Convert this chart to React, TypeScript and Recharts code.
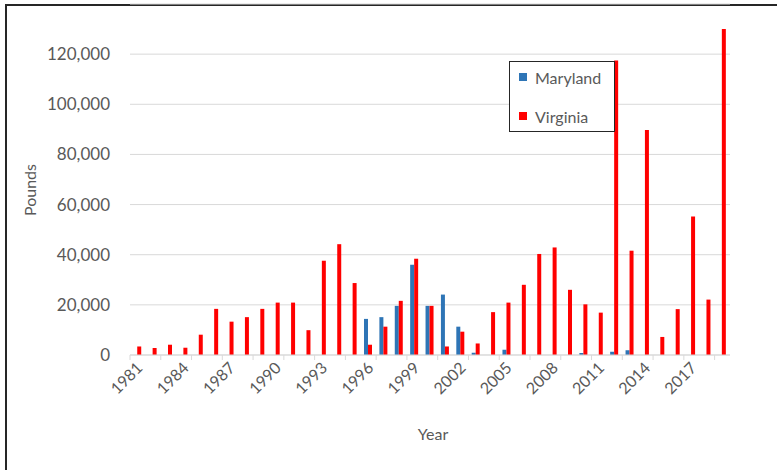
import React from "react";
import {
  BarChart,
  Bar,
  XAxis,
  YAxis,
  CartesianGrid,
  Legend,
} from "recharts";

const years = [
  "1981", "1982", "1983", "1984", "1985", "1986", "1987", "1988", "1989", "1990",
  "1991", "1992", "1993", "1994", "1995", "1996", "1997", "1998", "1999", "2000",
  "2001", "2002", "2003", "2004", "2005", "2006", "2007", "2008", "2009", "2010",
  "2011", "2012", "2013", "2014", "2015", "2016", "2017", "2018", "2019",
];

const maryland = [
  0, 0, 0, 0, 0, 0, 0, 0, 0, 0,
  0, 0, 0, 0, 0, 14400, 15100, 19600, 36000, 19600,
  24100, 11300, 900, 0, 2100, 0, 0, 0, 0, 800,
  0, 1300, 1900, 0, 0, 0, 0, 0, 0,
];

const virginia = [
  3400, 2800, 4100, 2900, 8100, 18400, 13300, 15100, 18400, 20900,
  20900, 9900, 37600, 44200, 28700, 4100, 11300, 21600, 38400, 19600,
  3400, 9300, 4600, 17100, 20900, 28000, 40300, 42900, 26000, 20200,
  16900, 117500, 41600, 89700, 7200, 18300, 55200, 22100, 130000,
];

const yTicks = [0, 20000, 40000, 60000, 80000, 100000, 120000];

const data = years.map((year, i) => ({
  year,
  Maryland: maryland[i],
  Virginia: virginia[i],
}));

const FONT = "Lato, 'Open Sans', sans-serif";
const TEXT = "#595959";
const BLUE = "#2e75b6";
const RED = "#ff0000";

const PLOT_LEFT = 130;
const PLOT_RIGHT = 730;
const BAND = (PLOT_RIGHT - PLOT_LEFT) / years.length;

function YearTick(props: any) {
  const { x, y, index, payload } = props;
  const edge = x - BAND / 2;
  return (
    <g>
      {index % 2 === 0 && (
        <line x1={edge} y1={y} x2={edge} y2={y + 5} stroke="#d9d9d9" />
      )}
      {index % 3 === 0 && (
        <text
          x={x + 6}
          y={y + 14}
          transform={`rotate(-45 ${x + 6} ${y + 14})`}
          textAnchor="end"
          fill={TEXT}
          fontSize={16}
          fontFamily={FONT}
        >
          {payload.value}
        </text>
      )}
    </g>
  );
}

function LegendBox() {
  const items = [
    { name: "Maryland", color: BLUE },
    { name: "Virginia", color: RED },
  ];
  return (
    <div
      style={{
        width: 106,
        height: 71,
        border: "1.5px solid #262626",
        background: "#fff",
        fontFamily: FONT,
        fontSize: 16,
        color: TEXT,
        boxSizing: "border-box",
        paddingTop: 1,
      }}
    >
      {items.map((it) => (
        <div
          key={it.name}
          style={{ display: "flex", alignItems: "center", height: 28, marginBottom: 11, paddingLeft: 9 }}
        >
          <span
            style={{ width: 8, height: 8, background: it.color, display: "inline-block", marginRight: 8 }}
          />
          {it.name}
        </div>
      ))}
    </div>
  );
}

export default function App() {
  return (
    <div
      style={{
        position: "absolute",
        left: 0,
        top: 0,
        width: 777,
        height: 470,
        overflow: "hidden",
        background: "#fff",
      }}
    >
      <div
        style={{
          position: "absolute",
          left: 5,
          top: 4,
          width: 820,
          height: 520,
          border: "2px solid #262626",
        }}
      />
      <div style={{ position: "absolute", left: 0, top: 0 }}>
        <BarChart
          width={777}
          height={470}
          data={data}
          margin={{ top: 4, right: 777 - PLOT_RIGHT, left: 0, bottom: 0 }}
          barCategoryGap="21%"
          barGap={0}
        >
          <CartesianGrid vertical={false} stroke="#d9d9d9" />
          <XAxis
            dataKey="year"
            interval={0}
            height={115}
            tickSize={0}
            tickMargin={0}
            tickLine={false}
            stroke="#d9d9d9"
            tick={<YearTick />}
            label={{
              content: () => (
                <text x={433} y={440} textAnchor="middle" fill={TEXT} fontSize={16} fontFamily={FONT}>
                  Year
                </text>
              ),
            }}
          />
          <YAxis
            width={PLOT_LEFT}
            domain={[0, 140000]}
            ticks={yTicks}
            axisLine={false}
            tickLine={false}
            tickMargin={14}
            tick={{ fill: TEXT, fontSize: 17, fontFamily: FONT }}
            tickFormatter={(v: number) => v.toLocaleString("en-US")}
            label={{
              content: () => (
                <text
                  x={36}
                  y={190}
                  transform="rotate(-90 36 190)"
                  textAnchor="middle"
                  fill={TEXT}
                  fontSize={16}
                  fontFamily={FONT}
                >
                  Pounds
                </text>
              ),
            }}
          />
          <Legend
            layout="horizontal"
            verticalAlign="middle"
            align="center"
            content={() => <LegendBox />}
            wrapperStyle={{ left: 509, top: 61, width: 106, height: 71 }}
          />
          <Bar dataKey="Maryland" fill={BLUE} isAnimationActive={false} />
          <Bar dataKey="Virginia" fill={RED} isAnimationActive={false} />
        </BarChart>
      </div>
    </div>
  );
}
